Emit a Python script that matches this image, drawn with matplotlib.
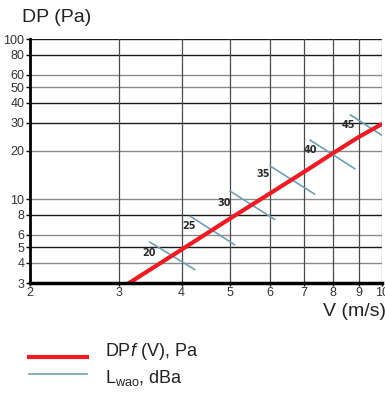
import matplotlib
matplotlib.use("Agg")
import matplotlib.pyplot as plt
from matplotlib.lines import Line2D
from matplotlib.ticker import FixedLocator, NullLocator, FixedFormatter

FONT = "Liberation Sans"
plt.rcParams["font.family"] = [FONT, "DejaVu Sans"]
plt.rcParams["mathtext.fontset"] = "custom"
plt.rcParams["mathtext.rm"] = FONT
plt.rcParams["mathtext.it"] = FONT + ":italic"

# pressure drop curve DP = f(V)
v_curve = [3.12, 4, 5, 6, 7, 8, 9, 10]
dp_curve = [2.95, 4.85, 7.6, 10.9, 14.8, 19.4, 24.5, 29.5]

# sound level marks (Lwao, dBa): each a short segment crossing the curve
lw_levels = ["20", "25", "30", "35", "40", "45"]
lw_v0 = [3.45, 4.15, 4.98, 5.98, 7.18, 8.63]
lw_dp0 = [5.43, 7.87, 11.3, 16.2, 23.5, 33.8]
lw_v1 = [4.26, 5.11, 6.14, 7.37, 8.86, 10.6]
lw_dp1 = [3.62, 5.18, 7.43, 10.7, 15.4, 22.2]
lw_label_v = [3.44, 4.13, 4.85, 5.80, 7.21, 8.56]
lw_label_dp = [4.64, 6.84, 9.53, 14.4, 20.3, 29.0]

x_ticks = [2, 3, 4, 5, 6, 7, 8, 9, 10]
y_ticks = [3, 4, 5, 6, 8, 10, 20, 30, 40, 50, 60, 80, 100]
y_dark = [5, 8, 30, 40, 80, 100]

W, H = 385, 394
fig = plt.figure(figsize=(W / 100, H / 100), dpi=100)
ax = fig.add_axes([30 / W, 1 - 283 / H, 352 / W, 244 / H])
ax.set_xscale("log")
ax.set_yscale("log")
ax.set_xlim(2, 10)
ax.set_ylim(3, 100)

# grid
for y in y_ticks[1:]:
    c = "#1a1a1a" if y in y_dark else "#8a8a8a"
    ax.axhline(y, color=c, lw=1.0, zorder=1)
for x in x_ticks[1:-1]:
    ax.axvline(x, color="#4a4a4a", lw=0.9, zorder=1)
ax.axvline(10, color="#9a9a9a", lw=1.0, zorder=1)

# Lwao segments
blue = "#6e9fb6"
red = "#ec1c24"
for lab, a, b, c, d, lv, ld in zip(lw_levels, lw_v0, lw_dp0, lw_v1, lw_dp1,
                                   lw_label_v, lw_label_dp):
    ax.plot([a, c], [b, d], color=blue, lw=1.2, zorder=2, solid_capstyle="butt")
    ax.text(lv, ld, lab, fontsize=7, fontweight="bold", color="#2a2a2a",
            ha="center", va="center", family=["DejaVu Sans"], zorder=4)

ax.plot(v_curve, dp_curve, color=red, lw=3.0, zorder=3,
        solid_capstyle="butt")

for s in ["top", "right"]:
    ax.spines[s].set_visible(False)
ax.spines["left"].set_linewidth(2.0)
ax.spines["bottom"].set_linewidth(2.5)
ax.spines["left"].set_zorder(5)
ax.spines["bottom"].set_zorder(5)

ax.xaxis.set_major_locator(FixedLocator(x_ticks))
ax.xaxis.set_major_formatter(FixedFormatter([str(t) for t in x_ticks]))
ax.xaxis.set_minor_locator(NullLocator())
ax.yaxis.set_major_locator(FixedLocator(y_ticks))
ax.yaxis.set_major_formatter(FixedFormatter([str(t) for t in y_ticks]))
ax.yaxis.set_minor_locator(NullLocator())
ax.tick_params(axis="y", length=3, width=1, pad=1, labelsize=9,
               labelcolor="#333333", direction="out")
ax.tick_params(axis="x", length=2, width=1, pad=1, labelsize=9,
               labelcolor="#333333", direction="out")

fig.text(22 / W, 1 - 18 / H, "DP (Pa)", fontsize=14, color="#222222",
         ha="left", va="center")
fig.text(386 / W, 1 - 312 / H, "V (m/s)", fontsize=14, color="#222222",
         ha="right", va="center")

# legend
fig.add_artist(Line2D([29 / W, 87 / W], [1 - 357 / H, 1 - 357 / H],
                      color=red, lw=3.0, transform=fig.transFigure))
fig.add_artist(Line2D([29 / W, 87 / W], [1 - 374 / H, 1 - 374 / H],
                      color=blue, lw=1.2, transform=fig.transFigure))
fig.text(105 / W, 1 - 351 / H, r"DP$\mathit{f}$ (V), Pa", fontsize=13,
         color="#222222", ha="left", va="center")
fig.text(105 / W, 1 - 378 / H, r"L$_{\mathrm{wao}}$, dBa", fontsize=13,
         color="#222222", ha="left", va="center")

fig.savefig("out.png", dpi=100)
